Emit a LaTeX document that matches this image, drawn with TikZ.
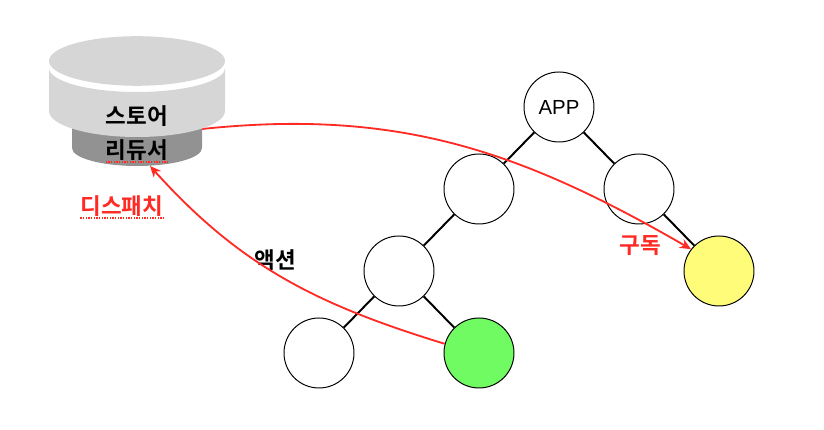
\documentclass[tikz,border=0pt]{standalone}
\usepackage{fontspec}
\setmainfont{Noto Sans CJK KR}[BoldFont={Noto Sans CJK KR Bold}]
\newfontfamily\appfont{Liberation Sans}
\usepackage{xcolor}
\usetikzlibrary{arrows.meta,backgrounds}
\definecolor{storegray}{HTML}{D6D6D6}
\definecolor{reducergray}{HTML}{929292}
\definecolor{flowred}{HTML}{FF2A24}
\definecolor{lemon}{HTML}{FFFC79}
\definecolor{spring}{HTML}{70FB62}
\tikzset{%
  tree node/.style={%
    draw,
    circle,
    line width=0.7pt,
    fill=white,
    inner sep=0pt,
    minimum size=1.75cm
  }
}
\tikzset{%
  tree edge/.style={%
    line width=1.4pt
  }
}
\tikzset{%
  flow/.style={%
    line width=1.3pt,
    color=flowred,
    -{Stealth[length=8pt,width=7pt]}
  }
}
\tikzset{%
  label text/.style={%
    font=\bfseries\fontsize{16}{16}\selectfont,
    inner sep=0pt
  }
}
\tikzset{%
  spell mark/.style={%
    densely dotted,
    line width=0.9pt,
    color=flowred
  }
}
\begin{document}
\begin{tikzpicture}
  \useasboundingbox (0, 0) rectangle (20.6, 10.75);
  % tree
  \node [tree node, font=\appfont\fontsize{14.5}{14.5}\selectfont] (app) at (13.975, 8.075) {APP};
  \node [tree node] (left) at (11.975, 6.025) {};
  \node [tree node] (right) at (15.975, 6.025) {};
  \node [tree node] (mid) at (9.975, 3.975) {};
  \node [tree node, fill=lemon] (sub) at (17.975, 3.975) {};
  \node [tree node] (leaf) at (7.975, 1.925) {};
  \node [tree node, fill=spring] (sender) at (11.975, 1.925) {};
  \begin{scope}[on background layer]
    \draw [tree edge] (app) -- (left);
    \draw [tree edge] (app) -- (right);
    \draw [tree edge] (left) -- (mid);
    \draw [tree edge] (right) -- (sub);
    \draw [tree edge] (mid) -- (leaf);
    \draw [tree edge] (mid) -- (sender);
  \end{scope}
  % reducer and store
  \fill [reducergray] (1.8, 8.2) -- (1.8, 7.05) arc [start angle=180, end angle=360, x radius=1.625, y radius=0.45] -- (5.05, 8.2) -- cycle;
  \coordinate (reducer out) at (5.05, 7.525);
  \draw [flow] (reducer out) to [out=6,in=150] (sub.142);
  \fill [storegray] (1.225, 9.05) -- (1.225, 7.975) arc [start angle=180, end angle=360, x radius=2.2, y radius=0.65] -- (5.625, 9.05) arc [start angle=0, end angle=-180, x radius=2.2, y radius=0.6] -- cycle;
  \fill [storegray] (3.425, 9.225) ellipse [x radius=2.2, y radius=0.62];
  \node [label text] (store) at (3.425, 7.85) {스토어};
  \node [label text] (reducer) at (3.425, 7.0) {리듀서};
  \coordinate (reducer in) at (3.75, 6.6);
  \draw [spell mark] ([yshift=-1pt]reducer.south west) -- ([yshift=-1pt]reducer.south east);
  % labels
  \node [label text, text=flowred] (dispatch) at (3.05, 5.6) {디스패치};
  \draw [spell mark] ([yshift=-1pt]dispatch.south west) -- ([yshift=-1pt]dispatch.south east);
  \node [label text] (action) at (6.875, 4.25) {액션};
  \node [label text, text=flowred] (subscribe) at (16, 4.6) {구독};
  \draw [flow] (sender.165) to [out=163,in=-48] (reducer in);
\end{tikzpicture}
\end{document}
